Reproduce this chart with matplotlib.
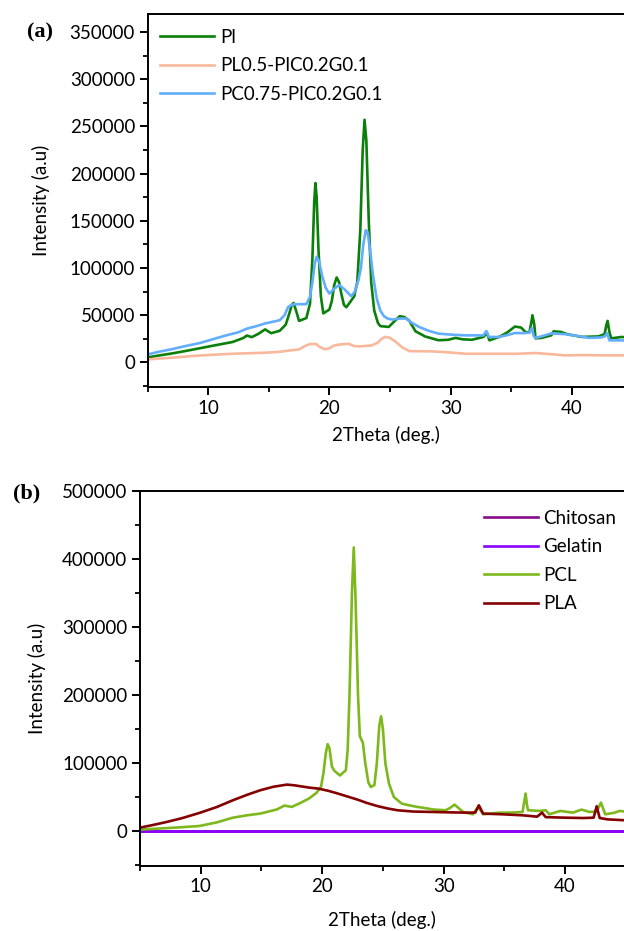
import matplotlib
matplotlib.use("Agg")
import matplotlib.pyplot as plt
from matplotlib.ticker import MultipleLocator

# ---------------- data: panel (a) ----------------
pl_x = [5, 6, 7, 8, 9.3, 10.5, 12, 12.9, 13.2, 13.6, 14.1, 14.7, 15.2, 15.9, 16.4, 16.7, 16.9,
        17.05, 17.25, 17.5, 18.1, 18.4, 18.6, 18.75, 18.85, 18.95, 19.1, 19.3, 19.5, 20.0, 20.2,
        20.4, 20.6, 20.8, 21.0, 21.2, 21.4, 21.6, 22.05, 22.3, 22.55, 22.75, 22.9, 23.05, 23.25,
        23.45, 23.7, 24.0, 24.2, 24.9, 25.4, 25.8, 26.2, 26.6, 27.1, 27.9, 29.0, 29.8, 30.4,
        31.0, 31.75, 32.7, 33.0, 33.2, 34.0, 34.7, 35.3, 35.8, 36.2, 36.5, 36.65, 36.75, 36.9,
        37.0, 37.5, 38.3, 38.5, 39.1, 39.6, 40.8, 42.2, 42.7, 42.85, 42.95, 43.1, 43.25, 44.1, 44.5]
pl_y = [5300, 7500, 9500, 11800, 15000, 18000, 21600, 25900, 28500, 26800, 30000, 35000, 31000,
        33500, 40000, 52000, 61000, 63000, 55000, 44000, 47000, 62000, 110000, 170000, 190000,
        175000, 120000, 70000, 52000, 56000, 65000, 82000, 90000, 85000, 72000, 61000, 58500,
        62000, 70000, 85000, 140000, 225000, 257000, 235000, 150000, 85000, 55000, 42000, 38500,
        37600, 44000, 49000, 48000, 44000, 33000, 27500, 23500, 24000, 26000, 24500, 24000,
        27000, 31000, 23400, 27000, 32000, 38000, 37000, 32000, 32000, 42000, 50000, 40000,
        25500, 26000, 28700, 33000, 32300, 30000, 27000, 27600, 30000, 40000, 44000, 32000,
        25500, 27000, 26500]

pc_x = [5, 6, 7, 8, 9.3, 10.5, 11.5, 12.5, 13.2, 14.0, 14.7, 15.3, 15.9, 16.3, 16.6, 17.0, 17.5,
        18.1, 18.4, 18.6, 18.8, 18.95, 19.15, 19.4, 19.7, 20.0, 20.4, 20.8, 21.2, 21.8, 22.1,
        22.4, 22.6, 22.8, 23.0, 23.15, 23.35, 23.6, 23.9, 24.2, 24.5, 24.8, 25.2, 25.8, 26.3,
        26.8, 27.4, 28.2, 29.0, 30.0, 31.2, 32.7, 32.95, 33.15, 34.0, 34.7, 35.3, 36.0, 36.5,
        36.7, 36.85, 37.0, 37.6, 38.3, 39.4, 40.5, 41.4, 42.4, 42.7, 42.9, 43.1, 44.1, 44.5]
pc_y = [8500, 11500, 14000, 17000, 20500, 25000, 28700, 32000, 35800, 38500, 41300, 43000,
        44700, 50000, 58800, 61500, 61700, 61700, 69500, 85000, 105000, 112000, 107000, 92000,
        79000, 73000, 78000, 82000, 78000, 70200, 75000, 87200, 100000, 125000, 140000, 138000,
        120000, 92000, 68000, 55000, 49000, 46500, 45400, 46500, 46500, 42000, 37600, 33500,
        30500, 29500, 28700, 28700, 33300, 27000, 27000, 29000, 31200, 31000, 31500, 36500,
        28000, 26000, 28000, 30800, 30000, 28000, 26000, 26500, 27500, 31000, 23400, 23400, 23000]

plc_x = [5, 7, 9.3, 12, 14.7, 15.9, 16.8, 17.5, 18.0, 18.4, 18.9, 19.2, 19.6, 20.0, 20.4, 20.9,
         21.6, 22.0, 22.5, 23.5, 24.0, 24.3, 24.6, 25.0, 25.5, 26.0, 26.6, 28.5, 30.0, 31.2,
         34.0, 35.5, 37.0, 38.5, 39.4, 41.0, 42.5, 44.5]
plc_y = [3200, 5000, 7400, 9200, 10300, 11300, 12800, 13800, 17500, 19500, 19500, 16500, 14000,
         15000, 18000, 19100, 19800, 17500, 17000, 18000, 21000, 25000, 27000, 26000, 21600,
         16000, 12000, 11700, 10500, 9200, 9200, 9200, 10000, 8500, 7500, 7800, 7500, 7500]

labels_a = ["Pl", "PL0.5-PlC0.2G0.1", "PC0.75-PlC0.2G0.1"]

# ---------------- data: panel (b) ----------------
chi_x = [5, 15, 25, 35, 45]
chi_y = [0, 0, 0, 0, 0]
gel_x = [5, 15, 25, 35, 45]
gel_y = [600, 600, 600, 600, 600]

pcl_x = [5, 6.5, 8, 9.9, 11.3, 12.65, 13.8, 14.9, 16.25, 16.9, 17.5, 18.2, 18.9, 19.5, 19.9,
         20.1, 20.3, 20.45, 20.6, 20.8, 21.0, 21.46, 21.95, 22.1, 22.25, 22.45, 22.6,
         22.75, 22.95, 23.1, 23.2, 23.35, 23.55, 23.8, 24.0, 24.3, 24.5, 24.7, 24.85, 25.0,
         25.2, 25.5, 25.9, 26.55, 27.2, 27.85, 28.5, 29.2, 30.15, 30.5, 30.9, 31.3, 31.6, 32.4,
         32.85, 33.25, 34.6, 35.5, 36.5, 36.65, 36.75, 36.85, 36.95, 37.9, 38.4, 38.7, 39.6,
         40.65, 41.35, 42.0, 42.6, 42.95, 43.3, 44.0, 44.5, 44.9]
pcl_y = [2500, 4000, 5500, 7800, 13000, 20000, 23500, 26000, 32000, 37800, 35800, 41600, 48000,
         56000, 65000, 85000, 115000, 128000, 122000, 95000, 89000, 82000, 89700, 120000,
         200000, 350000, 417000, 340000, 200000, 140000, 136000, 130000, 100000, 72000,
         65000, 68000, 100000, 155000, 169000, 150000, 100000, 70000, 50400, 40700, 38000,
         35800, 34000, 31900, 30900, 34000, 39200, 33000, 28400, 25000, 35800, 25000, 27400,
         27500, 28400, 45000, 55400, 40000, 30900, 29900, 30900, 25000, 29900, 27400, 31900,
         28400, 29000, 42200, 25000, 27000, 29900, 29000]

pla_x = [5, 6, 7.2, 8.5, 9.9, 11.3, 12.65, 13.8, 14.9, 16.0, 17.1, 17.7, 18.2, 19.0, 19.7,
         20.5, 21.3, 22.1, 22.9, 23.7, 24.6, 25.4, 26.2, 27.5, 29.1, 30.5, 31.9, 32.6, 32.9,
         33.25, 34.8, 36.5, 37.7, 38.1, 38.4, 40.0, 41.5, 42.35, 42.6, 42.85, 43.5, 44.9]
pla_y = [5400, 9000, 13700, 19500, 27000, 35500, 45600, 53500, 60300, 65500, 68600, 67600,
         66200, 64000, 62700, 59500, 55400, 51000, 46600, 41500, 36800, 33500, 30900, 29000,
         28400, 27800, 27400, 27500, 38200, 26000, 25000, 23500, 21500, 27400, 20800, 20000,
         19500, 20000, 36800, 19500, 17500, 16200]

labels_b = ["Chitosan", "Gelatin", "PCL", "PLA"]

x_ticks = [10, 20, 30, 40]
ya_ticks = [0, 50000, 100000, 150000, 200000, 250000, 300000, 350000]
yb_ticks = [0, 100000, 200000, 300000, 400000, 500000]

# ---------------- figure ----------------
W, H = 624, 931
fig = plt.figure(figsize=(W / 100, H / 100), dpi=100)
FONT = "Lato"
FS = 13.5
plt.rcParams["font.family"] = [FONT, "DejaVu Sans"]


def px_rect(left, top, right, bottom):
    return [left / W, 1 - bottom / H, (right - left) / W, (bottom - top) / H]


def style(ax):
    for s in ["left", "bottom", "top"]:
        ax.spines[s].set_linewidth(1.4)
    ax.spines["right"].set_visible(False)
    ax.tick_params(which="major", direction="out", length=6, width=1.4, labelsize=FS,
                   top=False, right=False, pad=3)
    ax.tick_params(which="minor", direction="out", length=3.5, width=1.3, top=False, right=False)
    ax.xaxis.set_minor_locator(MultipleLocator(5))


lw = 1.9

# panel (a)
ax1 = fig.add_axes(px_rect(147.5, 14, W, 387))
ax1.plot(pl_x, pl_y, color="#0a7f0a", lw=lw, label=labels_a[0])
ax1.plot(plc_x, plc_y, color="#f9b89c", lw=lw, label=labels_a[1])
ax1.plot(pc_x, pc_y, color="#62aefc", lw=lw, label=labels_a[2])
ax1.set_xlim(5, 44.3)
ax1.set_ylim(-26000, 369000)
ax1.set_xticks(x_ticks)
ax1.set_yticks(ya_ticks)
ax1.yaxis.set_minor_locator(MultipleLocator(25000))
style(ax1)
ax1.set_xlabel("2Theta (deg.)", fontsize=FS, labelpad=7)
ax1.set_ylabel("Intensity (a.u)", fontsize=FS)
ax1.yaxis.set_label_coords(-0.205, 0.5)
ax1.legend(loc="upper left", frameon=False, fontsize=FS, handlelength=2.9,
           handletextpad=0.3, labelspacing=0.62, borderaxespad=0.0,
           bbox_to_anchor=(5 / 476.5, 1.0 - 7 / 373))
fig.text(27 / W, 1 - 32 / H, "(a)", fontsize=16, fontweight="bold",
         family="Liberation Serif", va="center", ha="left")

# panel (b)
ax2 = fig.add_axes(px_rect(140, 491, W, 866))
ax2.plot(chi_x, chi_y, color="#8b0a8b", lw=lw, label=labels_b[0])
ax2.plot(gel_x, gel_y, color="#8a00ff", lw=lw, label=labels_b[1])
ax2.plot(pcl_x, pcl_y, color="#7db81c", lw=lw, label=labels_b[2])
ax2.plot(pla_x, pla_y, color="#850000", lw=lw, label=labels_b[3])
ax2.set_xlim(5, 44.85)
ax2.set_ylim(-51000, 500000)
ax2.set_xticks(x_ticks)
ax2.set_yticks(yb_ticks)
ax2.yaxis.set_minor_locator(MultipleLocator(50000))
style(ax2)
ax2.set_xlabel("2Theta (deg.)", fontsize=FS, labelpad=11)
ax2.set_ylabel("Intensity (a.u)", fontsize=FS)
ax2.yaxis.set_label_coords(-0.195, 0.5)
ax2.legend(loc="upper left", frameon=False, fontsize=FS, handlelength=2.9,
           handletextpad=0.3, labelspacing=0.62, borderaxespad=0.0,
           bbox_to_anchor=((476 - 140) / (W - 140), 1.0 - 11 / 375))
fig.text(13 / W, 1 - 493 / H, "(b)", fontsize=16, fontweight="bold",
         family="Liberation Serif", va="center", ha="left")

fig.savefig("out.png", dpi=100)
